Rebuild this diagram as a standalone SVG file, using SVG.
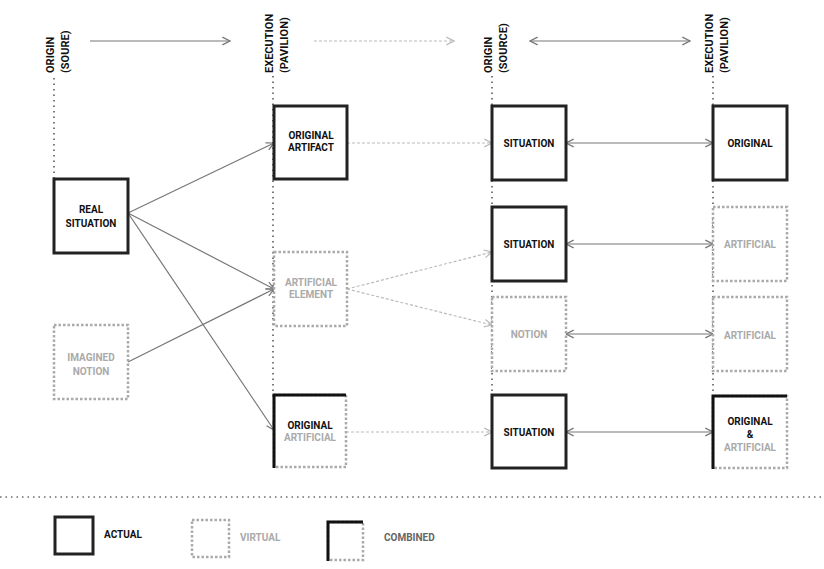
<svg xmlns="http://www.w3.org/2000/svg" width="824" height="569" viewBox="0 0 824 569">
<defs>
<style>
text{font-family:Roboto,"Liberation Sans",sans-serif;font-size:10px;font-weight:bold;text-anchor:middle}
.h{font-size:11px;text-anchor:start}
.d{fill:#111}.g{fill:#aaa}
.act{fill:#fff;stroke:#222;stroke-width:3}
.vir{fill:#fff;stroke:#aaa;stroke-width:2.5;stroke-dasharray:2.5 2}
.blk{fill:none;stroke:#111;stroke-width:3}
.ax{stroke:#222;stroke-width:1.2;stroke-dasharray:1.5 4}
.c{stroke:#777;stroke-width:1.2;fill:none}
.cv{stroke:#bbb;stroke-width:1.2;fill:none;stroke-dasharray:3 2}
</style>
<marker id="a" viewBox="0 0 10 10" refX="9" refY="5" markerWidth="8" markerHeight="8" orient="auto-start-reverse"><path d="M1,1 L9,5 L1,9" fill="none" stroke="#777" stroke-width="1.3"/></marker>
<marker id="av" viewBox="0 0 10 10" refX="9" refY="5" markerWidth="8" markerHeight="8" orient="auto-start-reverse"><path d="M1,1 L9,5 L1,9" fill="none" stroke="#bbb" stroke-width="1.3"/></marker>
</defs>
<rect width="824" height="569" fill="#fff"/>
<g id="axes">
<line class="ax" x1="54" y1="78" x2="54" y2="179"/>
<line class="ax" x1="273" y1="76" x2="273" y2="400"/>
<line class="ax" x1="492" y1="76" x2="492" y2="400"/>
<line class="ax" x1="713" y1="76" x2="713" y2="400"/>
<line class="ax" x1="0" y1="497" x2="824" y2="497"/>
</g>
<g id="headers">
<text class="d h" transform="translate(54,73) rotate(-90)">ORIGIN</text>
<text class="d h" transform="translate(69,73) rotate(-90)">(SOURE)</text>
<text class="d h" transform="translate(273,73) rotate(-90)">EXECUTION</text>
<text class="d h" transform="translate(288,73) rotate(-90)">(PAVILION)</text>
<text class="d h" transform="translate(492,73) rotate(-90)">ORIGIN</text>
<text class="d h" transform="translate(507,73) rotate(-90)">(SOURCE)</text>
<text class="d h" transform="translate(713,73) rotate(-90)">EXECUTION</text>
<text class="d h" transform="translate(728,73) rotate(-90)">(PAVILION)</text>
</g>
<g id="connectors">
<line class="c" x1="90" y1="41" x2="230" y2="41" marker-end="url(#a)"/>
<line class="cv" x1="314" y1="41" x2="454" y2="41" marker-end="url(#av)"/>
<line class="c" x1="530" y1="41" x2="690" y2="41" marker-start="url(#a)" marker-end="url(#a)"/>
<line class="c" x1="128" y1="213" x2="274" y2="143" marker-end="url(#a)"/>
<line class="c" x1="128" y1="213" x2="274" y2="289" marker-end="url(#a)"/>
<line class="c" x1="128" y1="213" x2="274" y2="430" marker-end="url(#a)"/>
<line class="c" x1="128" y1="362" x2="274" y2="289" marker-end="url(#a)"/>
<line class="cv" x1="347" y1="143" x2="492" y2="143" marker-end="url(#av)"/>
<line class="cv" x1="347" y1="289" x2="492" y2="252" marker-end="url(#av)"/>
<line class="cv" x1="347" y1="289" x2="492" y2="325" marker-end="url(#av)"/>
<line class="cv" x1="346" y1="432" x2="492" y2="432" marker-end="url(#av)"/>
<line class="c" x1="566" y1="143" x2="713" y2="143" marker-start="url(#a)" marker-end="url(#a)"/>
<line class="c" x1="566" y1="244" x2="713" y2="244" marker-start="url(#a)" marker-end="url(#a)"/>
<line class="c" x1="566" y1="334" x2="713" y2="334" marker-start="url(#a)" marker-end="url(#a)"/>
<line class="c" x1="566" y1="432" x2="713" y2="432" marker-start="url(#a)" marker-end="url(#a)"/>
</g>
<g id="real"><rect class="act" x="54" y="179" width="74" height="74"/><text class="d" x="91" y="213">REAL</text><text class="d" x="91" y="227">SITUATION</text></g>
<g id="imagined"><rect class="vir" x="54" y="325" width="74" height="74"/><text class="g" x="91" y="361">IMAGINED</text><text class="g" x="91" y="375">NOTION</text></g>
<g id="artifact"><rect class="act" x="274" y="106" width="73" height="73"/><text class="d" x="311" y="139">ORIGINAL</text><text class="d" x="311" y="151">ARTIFACT</text></g>
<g id="element"><rect class="vir" x="274" y="252" width="73" height="74"/><text class="g" x="311" y="286">ARTIFICIAL</text><text class="g" x="311" y="298">ELEMENT</text></g>
<g id="origart"><rect class="vir" x="274" y="395" width="72" height="72"/><path class="blk" d="M274,468 V395 H346"/><text class="d" x="310" y="429">ORIGINAL</text><text class="g" x="310" y="441">ARTIFICIAL</text></g>
<g id="sit1"><rect class="act" x="492" y="106" width="74" height="74"/><text class="d" x="529" y="147">SITUATION</text></g>
<g id="sit2"><rect class="act" x="492" y="207" width="74" height="74"/><text class="d" x="529" y="248">SITUATION</text></g>
<g id="notion"><rect class="vir" x="492" y="297" width="74" height="74"/><text class="g" x="529" y="338">NOTION</text></g>
<g id="sit3"><rect class="act" x="492" y="395" width="74" height="73"/><text class="d" x="529" y="436">SITUATION</text></g>
<g id="original"><rect class="act" x="713" y="106" width="74" height="74"/><text class="d" x="750" y="147">ORIGINAL</text></g>
<g id="art1"><rect class="vir" x="713" y="207" width="74" height="74"/><text class="g" x="750" y="248">ARTIFICIAL</text></g>
<g id="art2"><rect class="vir" x="713" y="297" width="74" height="74"/><text class="g" x="750" y="339">ARTIFICIAL</text></g>
<g id="both"><rect class="vir" x="713" y="396" width="74" height="72"/><path class="blk" d="M713,469 V396 H787"/><text class="d" x="750" y="425">ORIGINAL</text><text class="d" x="750" y="438">&amp;</text><text class="g" x="750" y="451">ARTIFICIAL</text></g>
<g id="legend">
<rect class="act" x="55" y="517" width="38" height="37"/><text class="d" x="104" y="538" style="text-anchor:start">ACTUAL</text>
<rect class="vir" x="192" y="520" width="37" height="37"/><text class="g" x="240" y="541" style="text-anchor:start">VIRTUAL</text>
<rect class="vir" x="328" y="522" width="35" height="38"/><path class="blk" d="M328,561 V522 H363"/><text x="384" y="541" style="text-anchor:start;fill:#666">COMBINED</text>
</g>
</svg>
